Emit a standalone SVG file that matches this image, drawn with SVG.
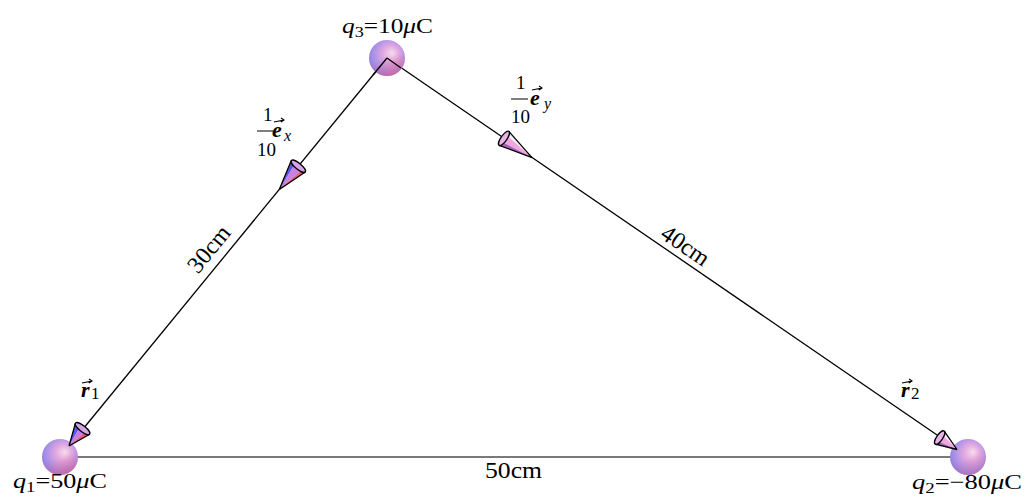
<svg xmlns="http://www.w3.org/2000/svg" width="1025" height="497" viewBox="0 0 1025 497">
<style>
text{font-family:"Liberation Serif","Times New Roman",serif;fill:#000}
.lbl{font-size:21px}
.cm{font-size:24px}
.it{font-style:italic}
.bi{font-style:italic;font-weight:bold}
.frac{font-size:19px}
.edge{stroke:#000;stroke-width:1.3;fill:none}
.base{stroke:#7a7a7a;stroke-width:2;fill:none}
.vec{stroke:#000;stroke-width:1.1;fill:none}
.cone{stroke:#000;stroke-width:1.3;stroke-linejoin:round}
</style>
<defs>
<radialGradient id="sph" cx="0.55" cy="0.42" r="0.62" fx="0.64" fy="0.36">
<stop offset="0" stop-color="#f7dcec"/>
<stop offset="0.35" stop-color="#e2a9e0"/>
<stop offset="0.75" stop-color="#a690e8"/>
<stop offset="1" stop-color="#8f7ad8"/>
</radialGradient>
<linearGradient id="red" x1="0.3" y1="0.2" x2="0.6" y2="1">
<stop offset="0.4" stop-color="#e85878" stop-opacity="0"/>
<stop offset="1" stop-color="#e85878" stop-opacity="0.55"/>
</linearGradient>
</defs>
<g id="connectors">
<line class="base" x1="60" y1="457" x2="968" y2="457"/>
<line class="edge" x1="387" y1="58" x2="83" y2="429"/>
<line class="edge" x1="387" y1="58" x2="940" y2="437"/>
<line x1="69" y1="446" x2="60" y2="457" stroke="#e8e0f0" stroke-width="1"/>
<line x1="957" y1="449" x2="968" y2="457" stroke="#5050c0" stroke-width="1"/>
</g>
<g id="q1">
<circle cx="60" cy="457" r="18" fill="url(#sph)"/>
<circle cx="60" cy="457" r="18" fill="url(#red)"/>
<text class="lbl" x="13" y="488" textLength="94" lengthAdjust="spacingAndGlyphs"><tspan class="it">q</tspan><tspan font-size="15" dy="4">1</tspan><tspan dy="-4">=50</tspan><tspan class="it">μ</tspan>C</text>
</g>
<g id="q2">
<circle cx="968" cy="457" r="18" fill="url(#sph)"/>
<circle cx="968" cy="457" r="18" fill="url(#red)" opacity="0.6"/>
<text class="lbl" x="912" y="489" textLength="110" lengthAdjust="spacingAndGlyphs"><tspan class="it">q</tspan><tspan font-size="15" dy="4">2</tspan><tspan dy="-4">=−80</tspan><tspan class="it">μ</tspan>C</text>
</g>
<g id="q3">
<circle cx="387" cy="58" r="18" fill="url(#sph)"/>
<circle cx="387" cy="58" r="18" fill="url(#red)"/>
<line class="edge" x1="387" y1="58" x2="373" y2="75"/>
<line class="edge" x1="387" y1="58" x2="401" y2="68"/>
<text class="lbl" x="342" y="33" textLength="91" lengthAdjust="spacingAndGlyphs"><tspan class="it">q</tspan><tspan font-size="15" dy="4">3</tspan><tspan dy="-4">=10</tspan><tspan class="it">μ</tspan>C</text>
</g>
<g id="ex">
<g transform="translate(279.3,189.5) rotate(129.3)">
<polygon points="0,0 -30,9 -30,4" fill="#5c58e6"/>
<polygon points="0,0 -30,4 -30,-5" fill="#c880e2"/>
<polygon points="0,0 -30,-5 -30,-9" fill="#e2607c"/>
<ellipse cx="-30" cy="0" rx="3" ry="9" fill="#d8a2ea"/>
<path class="cone" d="M0,0 L-30,9 M0,0 L-30,-9" fill="none"/>
<ellipse class="cone" cx="-30" cy="0" rx="3" ry="9" fill="none"/>
</g>
<text class="frac" x="263" y="121">1</text>
<line x1="257" y1="131" x2="273" y2="131" stroke="#000" stroke-width="1"/>
<text class="frac" x="257" y="156">10</text>
<text class="bi" font-size="22" x="272" y="137">e</text>
<path class="vec" d="M274,122 L284,120 M281,118 L284,120 L281,122"/>
<text class="it" font-size="16" x="284" y="141">x</text>
</g>
<g id="ey">
<g transform="translate(532,157.6) rotate(34.5)">
<polygon points="0,0 -34,-8.5 -34,-4" fill="#f4eef8"/>
<polygon points="0,0 -34,-4 -34,4" fill="#f2a6de"/>
<polygon points="0,0 -34,4 -34,8.5" fill="#a462b8"/>
<ellipse cx="-34" cy="0" rx="3" ry="8.5" fill="#e6b4e8"/>
<path class="cone" d="M0,0 L-34,8.5 M0,0 L-34,-8.5" fill="none"/>
<ellipse class="cone" cx="-34" cy="0" rx="3" ry="8.5" fill="none"/>
</g>
<text class="frac" x="516" y="89">1</text>
<line x1="511" y1="99" x2="528" y2="99" stroke="#000" stroke-width="1"/>
<text class="frac" x="511" y="123">10</text>
<text class="bi" font-size="22" x="530" y="105">e</text>
<path class="vec" d="M532,90 L542,88 M539,86 L542,88 L539,90"/>
<text class="it" font-size="16" x="544" y="109">y</text>
</g>
<g id="r1">
<g transform="translate(69,446) rotate(128)">
<polygon points="0,0 -22,9 -22,3" fill="#5c58e6"/>
<polygon points="0,0 -22,3 -22,-4" fill="#c27ee4"/>
<polygon points="0,0 -22,-4 -22,-9" fill="#e2607c"/>
<ellipse cx="-22" cy="0" rx="3" ry="9" fill="#d8a2ea"/>
<path class="cone" d="M0,0 L-22,9 M0,0 L-22,-9" fill="none" stroke-width="1.8"/>
<ellipse class="cone" cx="-22" cy="0" rx="3" ry="9" fill="none" stroke-width="1.8"/>
</g>
<text class="bi" font-size="22" x="81" y="397">r</text>
<path class="vec" d="M82,383 L92,381 M89,379 L92,381 L89,383"/>
<text font-size="17" x="91" y="399">1</text>
</g>
<g id="r2">
<g transform="translate(957,449.5) rotate(34.5)">
<polygon points="0,0 -21,-8 -21,-4" fill="#f4eef8"/>
<polygon points="0,0 -21,-4 -21,4" fill="#f2a6de"/>
<polygon points="0,0 -21,4 -21,8" fill="#a462b8"/>
<ellipse cx="-21" cy="0" rx="3" ry="8" fill="#e6b4e8"/>
<path class="cone" d="M0,0 L-21,8 M0,0 L-21,-8" fill="none" stroke-width="1.8"/>
<ellipse class="cone" cx="-21" cy="0" rx="3" ry="8" fill="none" stroke-width="1.8"/>
</g>
<text class="bi" font-size="22" x="901" y="397">r</text>
<path class="vec" d="M902,383 L912,381 M909,379 L912,381 L909,383"/>
<text font-size="17" x="911" y="399">2</text>
</g>
<g id="labels">
<text class="cm" x="485" y="478" textLength="57" lengthAdjust="spacingAndGlyphs">50cm</text>
<text class="cm" text-anchor="middle" transform="translate(215,254) rotate(-50.7)">30cm</text>
<text class="cm" text-anchor="middle" transform="translate(681,252) rotate(34.5)">40cm</text>
</g>
</svg>
